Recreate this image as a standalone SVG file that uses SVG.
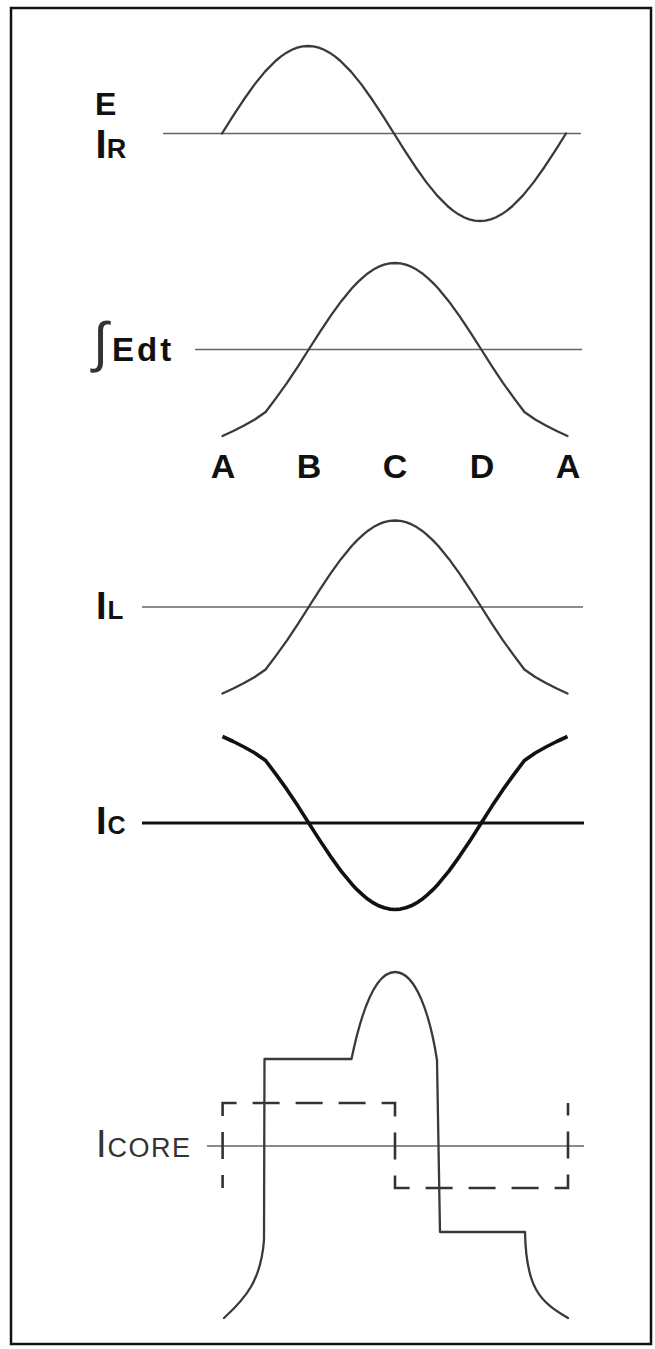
<svg xmlns="http://www.w3.org/2000/svg" width="655" height="1349" viewBox="0 0 655 1349">
<style>
.frame{fill:none;stroke:#111;stroke-width:2.5}
.axis{fill:none;stroke:#666;stroke-width:1.6}
.axisb{fill:none;stroke:#111;stroke-width:2.8}
.wave{fill:none;stroke:#3a3a3a;stroke-width:2.3;stroke-linejoin:round;stroke-linecap:round}
.waveb{fill:none;stroke:#111;stroke-width:3.6;stroke-linejoin:round;stroke-linecap:butt}
.dash{fill:none;stroke:#333;stroke-width:2.6;stroke-dasharray:27 16;stroke-dashoffset:14}
.lbl{font-family:"Liberation Sans",Arial,sans-serif;font-weight:bold;fill:#111}
.lblr{font-family:"Liberation Sans",Arial,sans-serif;font-weight:normal;fill:#333}
.pt{font-family:"Liberation Sans",Arial,sans-serif;font-weight:bold;font-size:34px;fill:#111;text-anchor:middle}
</style>
<defs>
<path id="bell" d="M222.5,436 L233.3,431 L244.1,425.5 L254.8,419.5 L265.6,412 L276.4,397.6 L287.2,382.6 L298,366.4 L308.7,349.5 L319.5,332.6 L330.3,316.4 L341.1,301.4 L351.9,288.3 L357.3,282.6 L362.7,277.6 L368,273.2 L373.4,269.6 L378.8,266.7 L384.2,264.7 L389.6,263.4 L395,263 L400.4,263.4 L405.8,264.7 L411.2,266.7 L416.6,269.6 L422,273.2 L427.3,277.6 L432.7,282.6 L438.1,288.3 L448.9,301.4 L459.7,316.4 L470.5,332.6 L481.3,349.5 L492,366.4 L502.8,382.6 L513.6,397.6 L524.4,412 L535.2,419.5 L545.9,425.5 L556.7,431 L567.5,436"/>
</defs>
<rect class="frame" x="11" y="8" width="640" height="1336"/>

<g id="panel-E-IR">
<line class="axis" x1="163" y1="133.5" x2="581" y2="133.5"/>
<path class="wave" d="M222,133.5 L232.75,116.43 L243.5,100.02 L254.25,84.89 L265,71.63 L275.75,60.75 L281.1,56.33 L286.5,52.66 L291.9,49.77 L297.25,47.68 L302.6,46.42 L308,46 L313.4,46.42 L318.75,47.68 L324.1,49.77 L329.5,52.66 L334.9,56.33 L340.25,60.75 L351,71.63 L361.75,84.89 L372.5,100.02 L383.25,116.43 L394,133.5 L404.75,150.57 L415.5,166.98 L426.25,182.11 L437,195.37 L447.75,206.25 L453.1,210.67 L458.5,214.34 L463.9,217.23 L469.25,219.32 L474.6,220.58 L480,221 L485.4,220.58 L490.75,219.32 L496.1,217.23 L501.5,214.34 L506.9,210.67 L512.25,206.25 L523,195.37 L533.75,182.11 L544.5,166.98 L555.25,150.57 L566,133.5"/>
<text class="lbl" x="95" y="115" font-size="32">E</text>
<text class="lbl" x="95.5" y="158" font-size="40">I<tspan font-size="27">R</tspan></text>
</g>

<g id="panel-Edt">
<line class="axis" x1="195" y1="349.5" x2="582" y2="349.5"/>
<use href="#bell" class="wave"/>
<text class="lblr" x="93" y="361" font-size="55" font-family="DejaVu Sans, sans-serif" fill="#111">∫</text>
<text class="lbl" x="112" y="361" font-size="33" letter-spacing="3">Edt</text>
</g>

<g id="points">
<text class="pt" x="223" y="478">A</text>
<text class="pt" x="309" y="478">B</text>
<text class="pt" x="395" y="478">C</text>
<text class="pt" x="482" y="478">D</text>
<text class="pt" x="568" y="478">A</text>
</g>

<g id="panel-IL">
<line class="axis" x1="142" y1="607" x2="583" y2="607"/>
<use href="#bell" class="wave" transform="translate(0,257.5)"/>
<text class="lbl" x="96" y="619" font-size="38">I<tspan font-size="26" dx="1">L</tspan></text>
</g>

<g id="panel-IC">
<line class="axisb" x1="142" y1="823" x2="584" y2="823"/>
<use href="#bell" class="waveb" transform="translate(0,1172.5) scale(1,-1)"/>
<text class="lbl" x="96" y="834" font-size="38">I<tspan font-size="25" dx="1">C</tspan></text>
</g>

<g id="panel-ICORE">
<line class="axis" x1="207" y1="1146" x2="584" y2="1146"/>
<path class="dash" d="M222.6,1188 V1103 H395 V1188 H568 V1103"/>
<path class="wave" d="M224,1318 C246,1298 261,1280 264,1240 L264.5,1059 L351.5,1059 C360,1018 374,972 395,972 C416,972 430,1015 437,1060 L440,1232 L525,1232 C526,1288 540,1302 568,1318"/>
<text class="lblr" x="96" y="1157" font-size="38">I<tspan font-size="27" dx="1" letter-spacing="1.5">CORE</tspan></text>
</g>
</svg>
